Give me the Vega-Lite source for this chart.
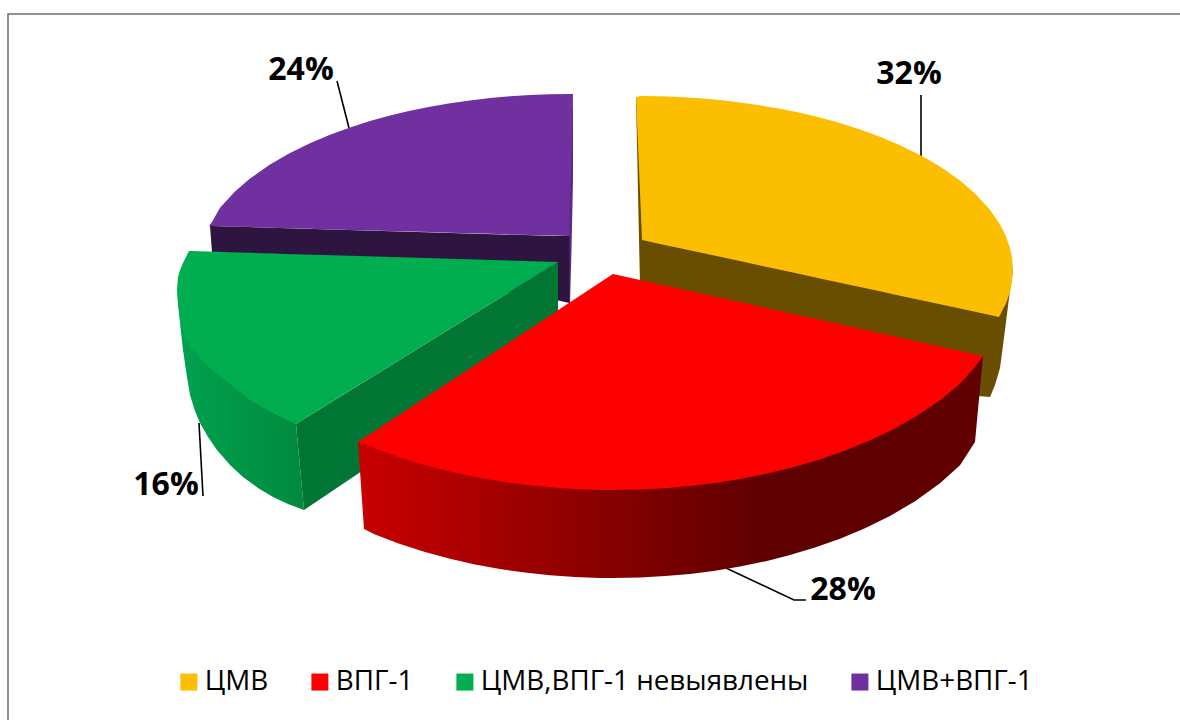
{"$schema":"https://vega.github.io/schema/vega-lite/v6.json","width":1180,"height":720,"padding":0,"autosize":{"type":"none"},"background":"white","view":{"stroke":null},
"datasets":{
"walls":[
{"face":"purpleEdge","x":569,"y":150,"y0":303},{"face":"purpleEdge","x":570,"y":140,"y0":303},{"face":"purpleEdge","x":571.5,"y":120,"y0":250},{"face":"purpleEdge","x":573,"y":94,"y0":180},
{"face":"purpleCut","x":210,"y":226,"y0":226},{"face":"purpleCut","x":212,"y":226,"y0":252},{"face":"purpleCut","x":400,"y":231.5,"y0":275},{"face":"purpleCut","x":556,"y":236,"y0":300},{"face":"purpleCut","x":569.5,"y":236,"y0":303},
{"face":"yellowWall","x":636,"y":97,"y0":97},{"face":"yellowWall","x":640,"y":100,"y0":285},{"face":"yellowWall","x":800,"y":200,"y0":337},{"face":"yellowWall","x":978,"y":300,"y0":396},{"face":"yellowWall","x":990,"y":260,"y0":397},{"face":"yellowWall","x":995,"y":260,"y0":385},{"face":"yellowWall","x":1000,"y":270,"y0":368},{"face":"yellowWall","x":1005,"y":280,"y0":330},{"face":"yellowWall","x":1010,"y":270,"y0":290},{"face":"yellowWall","x":1013,"y":270,"y0":270},
{"face":"greenWall","x":177,"y":290,"y0":290},{"face":"greenWall","x":178,"y":295,"y0":300},{"face":"greenWall","x":180,"y":300,"y0":323},{"face":"greenWall","x":183,"y":320,"y0":350},{"face":"greenWall","x":187,"y":330,"y0":377},{"face":"greenWall","x":190,"y":340,"y0":395},{"face":"greenWall","x":195,"y":345,"y0":411},{"face":"greenWall","x":200,"y":350,"y0":423},{"face":"greenWall","x":208,"y":360,"y0":437},{"face":"greenWall","x":217,"y":365,"y0":450},{"face":"greenWall","x":230,"y":375,"y0":465},{"face":"greenWall","x":243,"y":385,"y0":477},{"face":"greenWall","x":258,"y":395,"y0":488},{"face":"greenWall","x":273,"y":405,"y0":497},{"face":"greenWall","x":288,"y":415,"y0":504},{"face":"greenWall","x":296,"y":424,"y0":507},{"face":"greenWall","x":304,"y":510,"y0":510},
{"face":"greenCut","x":296,"y":424,"y0":424},{"face":"greenCut","x":304,"y":419,"y0":510},{"face":"greenCut","x":359,"y":385,"y0":473},{"face":"greenCut","x":450,"y":328.8,"y0":412},{"face":"greenCut","x":558,"y":262,"y0":340},
{"face":"redWall","x":358,"y":442,"y0":442},{"face":"redWall","x":364,"y":442,"y0":529},{"face":"redWall","x":375,"y":445,"y0":534.4},{"face":"redWall","x":400,"y":454,"y0":543.9},{"face":"redWall","x":425,"y":462,"y0":552},{"face":"redWall","x":450,"y":468,"y0":558.8},{"face":"redWall","x":475,"y":474,"y0":564.4},{"face":"redWall","x":500,"y":478,"y0":569},{"face":"redWall","x":525,"y":482,"y0":572.6},{"face":"redWall","x":550,"y":484,"y0":575.2},{"face":"redWall","x":575,"y":486,"y0":577},{"face":"redWall","x":600,"y":487,"y0":577.9},{"face":"redWall","x":613,"y":487,"y0":578},{"face":"redWall","x":640,"y":486,"y0":577.5},{"face":"redWall","x":665,"y":485,"y0":576.1},{"face":"redWall","x":690,"y":483,"y0":573.9},{"face":"redWall","x":715,"y":480,"y0":570.7},{"face":"redWall","x":740,"y":476,"y0":566.5},{"face":"redWall","x":765,"y":471,"y0":561.4},{"face":"redWall","x":790,"y":465,"y0":555.1},{"face":"redWall","x":815,"y":458,"y0":547.6},{"face":"redWall","x":840,"y":449,"y0":538.8},{"face":"redWall","x":865,"y":440,"y0":528.3},{"face":"redWall","x":890,"y":428,"y0":516},{"face":"redWall","x":915,"y":414,"y0":501.2},{"face":"redWall","x":940,"y":397,"y0":483.2},{"face":"redWall","x":960,"y":381,"y0":465.2},{"face":"redWall","x":975,"y":366,"y0":442},{"face":"redWall","x":983,"y":356,"y0":356}
],
"tops":[
{"slice":"ЦМВ+ВПГ-1","x":209,"y":226,"y0":226},{"slice":"ЦМВ+ВПГ-1","x":212,"y":222,"y0":226.1},{"slice":"ЦМВ+ВПГ-1","x":220,"y":207.8,"y0":226.3},{"slice":"ЦМВ+ВПГ-1","x":235,"y":191.5,"y0":226.7},{"slice":"ЦМВ+ВПГ-1","x":250,"y":178.6,"y0":227.1},{"slice":"ЦМВ+ВПГ-1","x":270,"y":164.6,"y0":227.7},{"slice":"ЦМВ+ВПГ-1","x":290,"y":153,"y0":228.3},{"slice":"ЦМВ+ВПГ-1","x":310,"y":143.2,"y0":228.8},{"slice":"ЦМВ+ВПГ-1","x":330,"y":134.8,"y0":229.4},{"slice":"ЦМВ+ВПГ-1","x":350,"y":127.5,"y0":229.9},{"slice":"ЦМВ+ВПГ-1","x":370,"y":121.1,"y0":230.5},{"slice":"ЦМВ+ВПГ-1","x":390,"y":115.6,"y0":231},{"slice":"ЦМВ+ВПГ-1","x":410,"y":110.8,"y0":231.6},{"slice":"ЦМВ+ВПГ-1","x":430,"y":106.7,"y0":232.1},{"slice":"ЦМВ+ВПГ-1","x":450,"y":103.3,"y0":232.7},{"slice":"ЦМВ+ВПГ-1","x":470,"y":100.4,"y0":233.3},{"slice":"ЦМВ+ВПГ-1","x":490,"y":98,"y0":233.8},{"slice":"ЦМВ+ВПГ-1","x":510,"y":96.3,"y0":234.4},{"slice":"ЦМВ+ВПГ-1","x":530,"y":95,"y0":234.9},{"slice":"ЦМВ+ВПГ-1","x":550,"y":94.2,"y0":235.5},{"slice":"ЦМВ+ВПГ-1","x":569,"y":94,"y0":236},{"slice":"ЦМВ+ВПГ-1","x":573,"y":94,"y0":94},
{"slice":"ЦМВ","x":636,"y":97,"y0":97},{"slice":"ЦМВ","x":642,"y":96,"y0":240},{"slice":"ЦМВ","x":660,"y":96.2,"y0":243.9},{"slice":"ЦМВ","x":680,"y":97,"y0":248.2},{"slice":"ЦМВ","x":700,"y":98.3,"y0":252.5},{"slice":"ЦМВ","x":720,"y":100,"y0":256.8},{"slice":"ЦМВ","x":740,"y":102.4,"y0":261.1},{"slice":"ЦМВ","x":760,"y":105.3,"y0":265.5},{"slice":"ЦМВ","x":780,"y":108.7,"y0":269.8},{"slice":"ЦМВ","x":800,"y":112.8,"y0":274.1},{"slice":"ЦМВ","x":820,"y":117.6,"y0":278.4},{"slice":"ЦМВ","x":840,"y":123.1,"y0":282.7},{"slice":"ЦМВ","x":860,"y":129.5,"y0":287},{"slice":"ЦМВ","x":880,"y":136.8,"y0":291.3},{"slice":"ЦМВ","x":900,"y":145.2,"y0":295.7},{"slice":"ЦМВ","x":920,"y":155,"y0":300},{"slice":"ЦМВ","x":940,"y":166.6,"y0":304.3},{"slice":"ЦМВ","x":960,"y":180.6,"y0":308.6},{"slice":"ЦМВ","x":975,"y":193.5,"y0":311.8},{"slice":"ЦМВ","x":990,"y":209.8,"y0":315.1},{"slice":"ЦМВ","x":999,"y":223,"y0":317},{"slice":"ЦМВ","x":1002,"y":228,"y0":311},{"slice":"ЦМВ","x":1006,"y":236.4,"y0":303.6},{"slice":"ЦМВ","x":1010,"y":248,"y0":292},{"slice":"ЦМВ","x":1012,"y":257.2,"y0":282.8},{"slice":"ЦМВ","x":1013,"y":270,"y0":270},
{"slice":"ЦМВ,ВПГ-1 невыявлены","x":177,"y":290,"y0":290},{"slice":"ЦМВ,ВПГ-1 невыявлены","x":178,"y":277,"y0":305},{"slice":"ЦМВ,ВПГ-1 невыявлены","x":180,"y":270,"y0":320},{"slice":"ЦМВ,ВПГ-1 невыявлены","x":183,"y":263,"y0":331},{"slice":"ЦМВ,ВПГ-1 невыявлены","x":187,"y":255,"y0":340},{"slice":"ЦМВ,ВПГ-1 невыявлены","x":189,"y":251,"y0":344},{"slice":"ЦМВ,ВПГ-1 невыявлены","x":193,"y":251.1,"y0":350},{"slice":"ЦМВ,ВПГ-1 невыявлены","x":200,"y":251.3,"y0":358},{"slice":"ЦМВ,ВПГ-1 невыявлены","x":208,"y":251.6,"y0":366},{"slice":"ЦМВ,ВПГ-1 невыявлены","x":217,"y":251.8,"y0":374},{"slice":"ЦМВ,ВПГ-1 невыявлены","x":230,"y":252.2,"y0":384},{"slice":"ЦМВ,ВПГ-1 невыявлены","x":240,"y":252.5,"y0":392},{"slice":"ЦМВ,ВПГ-1 невыявлены","x":250,"y":252.8,"y0":400},{"slice":"ЦМВ,ВПГ-1 невыявлены","x":262,"y":253.2,"y0":407},{"slice":"ЦМВ,ВПГ-1 невыявлены","x":273,"y":253.5,"y0":413},{"slice":"ЦМВ,ВПГ-1 невыявлены","x":285,"y":253.9,"y0":419},{"slice":"ЦМВ,ВПГ-1 невыявлены","x":296,"y":254.2,"y0":424},{"slice":"ЦМВ,ВПГ-1 невыявлены","x":350,"y":255.8,"y0":390.6},{"slice":"ЦМВ,ВПГ-1 невыявлены","x":450,"y":258.8,"y0":328.8},{"slice":"ЦМВ,ВПГ-1 невыявлены","x":558,"y":262,"y0":262},
{"slice":"ВПГ-1","x":358,"y":442,"y0":442},{"slice":"ВПГ-1","x":375,"y":430.8,"y0":448.3},{"slice":"ВПГ-1","x":400,"y":414.3,"y0":457.4},{"slice":"ВПГ-1","x":425,"y":397.8,"y0":465},{"slice":"ВПГ-1","x":450,"y":381.4,"y0":471.5},{"slice":"ВПГ-1","x":475,"y":364.9,"y0":476.9},{"slice":"ВПГ-1","x":500,"y":348.4,"y0":481.3},{"slice":"ВПГ-1","x":525,"y":331.9,"y0":484.8},{"slice":"ВПГ-1","x":550,"y":315.5,"y0":487.3},{"slice":"ВПГ-1","x":575,"y":299,"y0":489},{"slice":"ВПГ-1","x":600,"y":282.6,"y0":489.9},{"slice":"ВПГ-1","x":613,"y":274,"y0":490},{"slice":"ВПГ-1","x":640,"y":280,"y0":489.5},{"slice":"ВПГ-1","x":665,"y":285.5,"y0":488.2},{"slice":"ВПГ-1","x":690,"y":291.1,"y0":486},{"slice":"ВПГ-1","x":715,"y":296.6,"y0":483},{"slice":"ВПГ-1","x":740,"y":302.1,"y0":479},{"slice":"ВПГ-1","x":765,"y":307.7,"y0":474},{"slice":"ВПГ-1","x":790,"y":313.2,"y0":468},{"slice":"ВПГ-1","x":815,"y":318.8,"y0":460.9},{"slice":"ВПГ-1","x":840,"y":324.3,"y0":452.5},{"slice":"ВПГ-1","x":865,"y":329.8,"y0":442.6},{"slice":"ВПГ-1","x":890,"y":335.4,"y0":430.9},{"slice":"ВПГ-1","x":915,"y":340.9,"y0":417},{"slice":"ВПГ-1","x":940,"y":346.5,"y0":400.2},{"slice":"ВПГ-1","x":960,"y":350.9,"y0":383.8},{"slice":"ВПГ-1","x":975,"y":354.2,"y0":367},{"slice":"ВПГ-1","x":983,"y":356,"y0":356}
],
"leaders":[
{"leader":"a","seq":1,"x":921,"y":95},{"leader":"a","seq":2,"x":921,"y":157},
{"leader":"b","seq":1,"x":726,"y":568},{"leader":"b","seq":2,"x":794,"y":600},{"leader":"b","seq":3,"x":806,"y":600},
{"leader":"c","seq":1,"x":199,"y":423},{"leader":"c","seq":2,"x":203,"y":496},
{"leader":"d","seq":1,"x":337,"y":81},{"leader":"d","seq":2,"x":349,"y":128}
],
"frame":[{"seq":1,"x":8,"y":720},{"seq":2,"x":8,"y":14},{"seq":3,"x":1180,"y":14}],
"labels":[
{"slice":"ЦМВ","value":0.32,"x":909,"y":74},
{"slice":"ВПГ-1","value":0.28,"x":843,"y":590},
{"slice":"ЦМВ,ВПГ-1 невыявлены","value":0.16,"x":166,"y":485},
{"slice":"ЦМВ+ВПГ-1","value":0.24,"x":301,"y":70}
]},
"encoding":{
"x":{"field":"x","type":"quantitative","axis":null,"scale":{"domain":[0,1180],"nice":false,"zero":false}},
"y":{"field":"y","type":"quantitative","axis":null,"scale":{"domain":[720,0],"nice":false,"zero":false}}
},
"layer":[
{"data":{"name":"frame"},"mark":{"type":"line","color":"#6e6e6e","strokeWidth":1.5},"encoding":{"order":{"field":"seq"}}},
{"data":{"name":"leaders"},"mark":{"type":"line","color":"#000000","strokeWidth":1.6},"encoding":{"detail":{"field":"leader"},"order":{"field":"seq"}}},
{"data":{"name":"walls"},"transform":[{"filter":"datum.face==='purpleEdge'"}],"mark":{"type":"area","fill":"#5d2a8a"},"encoding":{"y2":{"field":"y0"}}},
{"data":{"name":"walls"},"transform":[{"filter":"datum.face==='purpleCut'"}],"mark":{"type":"area","fill":"#2d1540"},"encoding":{"y2":{"field":"y0"}}},
{"data":{"name":"walls"},"transform":[{"filter":"datum.face==='yellowWall'"}],"mark":{"type":"area","fill":"#694d00"},"encoding":{"y2":{"field":"y0"}}},
{"data":{"name":"walls"},"transform":[{"filter":"datum.face==='greenWall'"}],"mark":{"type":"area","fill":{"gradient":"linear","x1":0,"x2":1,"y1":0,"y2":0,"stops":[{"offset":0,"color":"#00a24f"},{"offset":1,"color":"#008a3e"}]}},"encoding":{"y2":{"field":"y0"}}},
{"data":{"name":"walls"},"transform":[{"filter":"datum.face==='greenCut'"}],"mark":{"type":"area","fill":"#007534"},"encoding":{"y2":{"field":"y0"}}},
{"data":{"name":"walls"},"transform":[{"filter":"datum.face==='redWall'"}],"mark":{"type":"area","fill":{"gradient":"linear","x1":0,"x2":1,"y1":0,"y2":0,"stops":[{"offset":0,"color":"#c80000"},{"offset":0.35,"color":"#8f0000"},{"offset":0.65,"color":"#5e0000"},{"offset":1,"color":"#600000"}]}},"encoding":{"y2":{"field":"y0"}}},
{"data":{"name":"tops"},"mark":{"type":"area","opacity":1},"encoding":{"y2":{"field":"y0"},
"color":{"field":"slice","type":"nominal","scale":{"domain":["ЦМВ","ВПГ-1","ЦМВ,ВПГ-1 невыявлены","ЦМВ+ВПГ-1"],"range":["#fcbe00","#ff0000","#00ae4f","#7030a0"]},
"legend":{"orient":"none","legendX":175,"legendY":668,"direction":"horizontal","columns":4,"title":null,"symbolType":"square","symbolSize":289,"symbolStrokeWidth":0,"symbolOpacity":1,"labelFont":"Open Sans","labelFontSize":27.8,"labelColor":"#000000","labelOffset":2,"columnPadding":37,"padding":0,"labelLimit":500}}}},
{"data":{"name":"labels"},"mark":{"type":"text","font":"Open Sans","fontWeight":"bold","fontSize":32,"color":"#000000","align":"center","baseline":"middle"},"encoding":{"text":{"field":"value","type":"quantitative","format":".0%"}}}
]}
